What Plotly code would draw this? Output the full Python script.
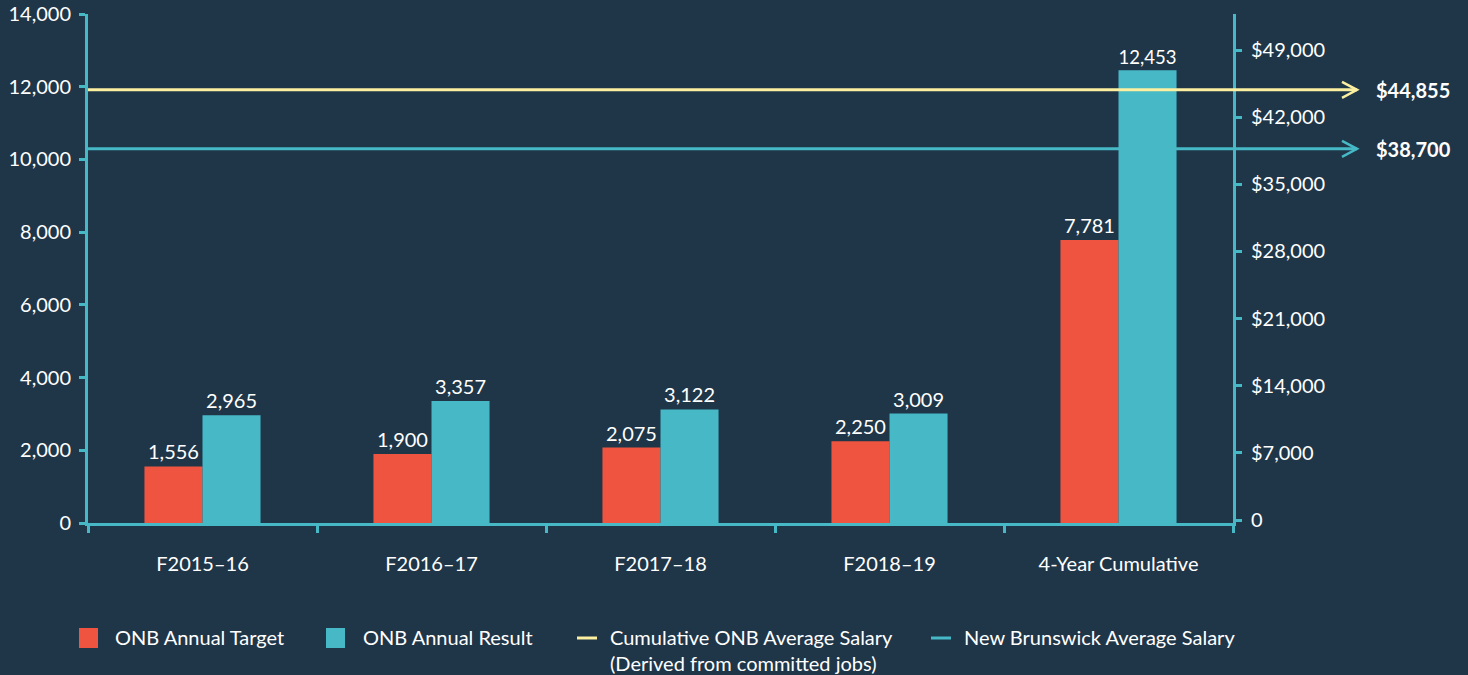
import plotly.graph_objects as go

categories = ["F2015\u201316", "F2016\u201317", "F2017\u201318", "F2018\u201319", "4-Year Cumulative"]
annual_target = [1556, 1900, 2075, 2250, 7781]
annual_result = [2965, 3357, 3122, 3009, 12453]
onb_avg_salary = 44855
nb_avg_salary = 38700
left_ticks = [0, 2000, 4000, 6000, 8000, 10000, 12000, 14000]
right_ticks = [0, 7000, 14000, 21000, 28000, 35000, 42000, 49000]
right_ticktext = ["0"] + ["${:,}".format(v) for v in right_ticks[1:]]

BG = "#1F3649"
TEAL = "#47B8C6"
RED = "#EF5440"
YELLOW = "#FCEFA0"
WHITE = "#FFFFFF"
FONT = "Lato"
FS = 20

W, H = 1468, 675
ML, MR, MT, MB = 88, 235, 14, 152
PW = W - ML - MR
PH = H - MT - MB


def px_x(px):
    return (px - ML) / PW


def px_y(py):
    return (H - MB - py) / PH


fig = go.Figure()
fig.add_trace(go.Bar(
    x=categories, y=annual_target, name="ONB Annual Target",
    marker=dict(color=RED, line=dict(width=0)),
    text=annual_target, texttemplate="%{y:,}", textposition="outside",
    textfont=dict(color=WHITE, size=FS, family=FONT), cliponaxis=False,
    showlegend=False,
))
fig.add_trace(go.Bar(
    x=categories, y=annual_result, name="ONB Annual Result",
    marker=dict(color=TEAL, line=dict(width=0)),
    text=annual_result, texttemplate="%{y:,}", textposition="outside",
    textfont=dict(color=WHITE, size=FS, family=FONT), cliponaxis=False,
    showlegend=False,
))
# invisible trace to anchor the secondary axis
fig.add_trace(go.Scatter(
    x=[categories[0]], y=[0], yaxis="y2", mode="lines",
    line=dict(width=0), hoverinfo="skip", showlegend=False,
))

shapes = []
annotations = []
head_x = px_x(1357)
for val, col in [(onb_avg_salary, YELLOW), (nb_avg_salary, TEAL)]:
    shapes.append(dict(type="line", xref="paper", yref="y2", x0=0, x1=head_x,
                       y0=val, y1=val, line=dict(color=col, width=3), layer="above"))
    shapes.append(dict(type="path", xref="paper", yref="y2",
                       xsizemode="pixel", ysizemode="pixel",
                       xanchor=head_x, yanchor=val,
                       path="M-15,8 L0,0 L-15,-8",
                       line=dict(color=col, width=2.5), layer="above"))
    annotations.append(dict(xref="paper", yref="y2", x=px_x(1374), y=val,
                            xanchor="left", yanchor="middle", showarrow=False,
                            text="<b>${:,}</b>".format(val),
                            font=dict(color=WHITE, size=FS, family=FONT)))

# manual legend
ly = 638
legend_items = [
    ("rect", RED, 79, 113, "ONB Annual Target"),
    ("rect", TEAL, 326, 361, "ONB Annual Result"),
    ("line", YELLOW, 577, 608, "Cumulative ONB Average Salary<br>(Derived from committed jobs)"),
    ("line", TEAL, 931, 962, "New Brunswick Average Salary"),
]
for kind, col, sx, tx, label in legend_items:
    if kind == "rect":
        shapes.append(dict(type="rect", xref="paper", yref="paper",
                           x0=px_x(sx), x1=px_x(sx + 19), y0=px_y(ly + 10), y1=px_y(ly - 10),
                           fillcolor=col, line=dict(width=0)))
    else:
        shapes.append(dict(type="line", xref="paper", yref="paper",
                           x0=px_x(sx), x1=px_x(sx + 20), y0=px_y(ly), y1=px_y(ly),
                           line=dict(color=col, width=3)))
    annotations.append(dict(xref="paper", yref="paper", x=px_x(tx), y=px_y(ly - 15),
                            xanchor="left", yanchor="top", align="left", showarrow=False,
                            text=label, font=dict(color=WHITE, size=FS, family=FONT)))

fig.update_layout(
    width=W, height=H,
    paper_bgcolor=BG, plot_bgcolor=BG,
    margin=dict(l=ML, r=MR, t=MT, b=MB, autoexpand=False),
    barmode="group", bargap=0.493, bargroupgap=0,
    font=dict(family=FONT, size=FS, color=WHITE),
    showlegend=False,
    shapes=shapes, annotations=annotations,
    xaxis=dict(
        type="category", categoryorder="array", categoryarray=categories,
        showline=True, linecolor=TEAL, linewidth=3,
        ticks="outside", tickson="boundaries", ticklen=7, tickwidth=3, tickcolor=TEAL,
        showgrid=False, zeroline=False,
        tickfont=dict(color=WHITE, size=FS, family=FONT),
        ticklabelstandoff=21,
    ),
    yaxis=dict(
        range=[0, 14000], tickvals=left_ticks, tickformat=",",
        showline=True, linecolor=TEAL, linewidth=3,
        ticks="outside", ticklen=6, tickwidth=3, tickcolor=TEAL,
        showgrid=False, zeroline=False,
        tickfont=dict(color=WHITE, size=FS, family=FONT),
        ticklabelstandoff=4,
    ),
    yaxis2=dict(
        overlaying="y", side="right", range=[-313, 52760],
        tickvals=right_ticks, ticktext=right_ticktext,
        showline=True, linecolor=TEAL, linewidth=3,
        ticks="outside", ticklen=6, tickwidth=3, tickcolor=TEAL,
        showgrid=False, zeroline=False,
        tickfont=dict(color=WHITE, size=FS, family=FONT),
        ticklabelstandoff=5,
    ),
)

fig.write_html(
    "out.html",
    config={"displayModeBar": False},
    post_script="document.body.style.margin='0';document.body.style.background='" + BG + "';",
)
